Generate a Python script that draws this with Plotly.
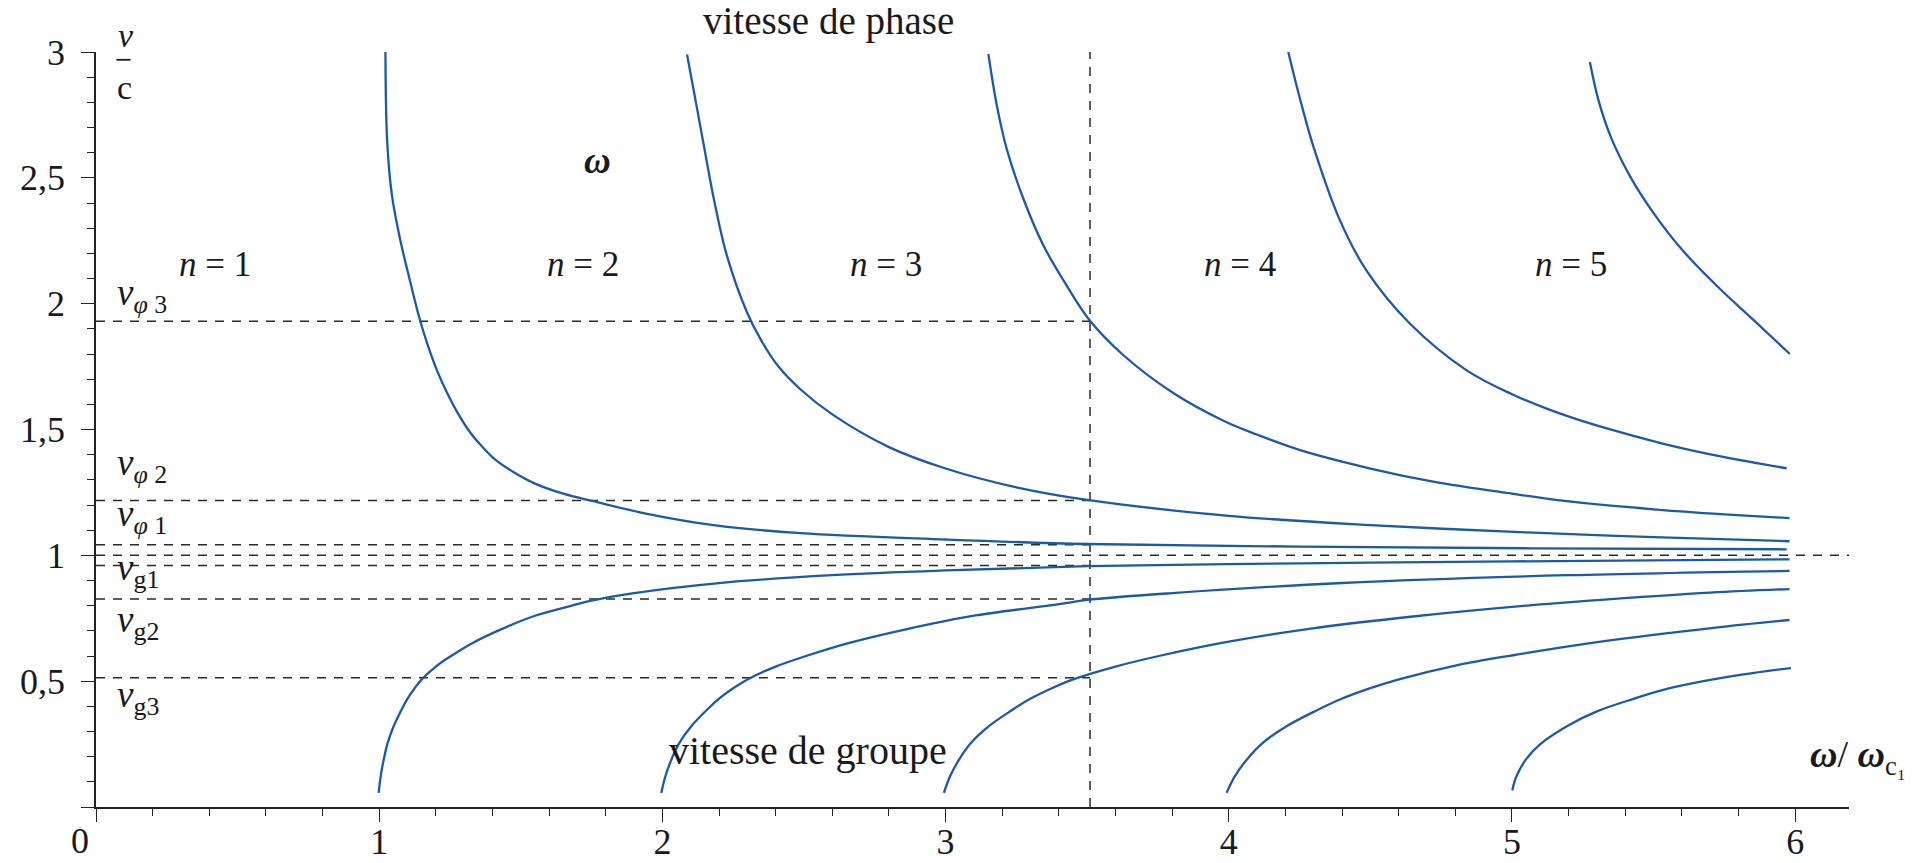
import plotly.graph_objects as go

# ---------------- data ----------------
# phase velocity curves v_phi / c  (mode n = 1..5)
phase_n1_x = [1.022, 1.028, 1.045, 1.075, 1.110, 1.139, 1.17, 1.204, 1.24, 1.275, 1.32, 1.357, 1.41, 1.475, 1.55, 1.65, 1.757, 1.946, 2.181, 2.487, 3.0, 3.5, 4.25, 5.07, 5.97]
phase_n1_y = [3.0, 2.65, 2.43, 2.25, 2.085, 1.955, 1.84, 1.735, 1.645, 1.57, 1.49, 1.44, 1.38, 1.33, 1.285, 1.245, 1.215, 1.165, 1.12, 1.088, 1.063, 1.045, 1.035, 1.028, 1.024]

phase_n2_x = [2.087, 2.12, 2.151, 2.181, 2.228, 2.299, 2.346, 2.41, 2.487, 2.6, 2.8, 3.0, 3.25, 3.5, 4.0, 4.5, 5.075, 5.5, 5.98]
phase_n2_y = [2.99, 2.79, 2.6, 2.42, 2.19, 1.965, 1.86, 1.75, 1.66, 1.56, 1.43, 1.345, 1.27, 1.22, 1.157, 1.12, 1.09, 1.072, 1.056]

phase_n3_x = [3.151, 3.181, 3.216, 3.275, 3.346, 3.428, 3.51, 3.628, 3.804, 3.981, 4.099, 4.252, 4.5, 4.722, 5.0, 5.193, 5.5, 5.75, 5.98]
phase_n3_y = [2.992, 2.787, 2.614, 2.416, 2.23, 2.071, 1.932, 1.795, 1.645, 1.535, 1.48, 1.418, 1.345, 1.293, 1.245, 1.215, 1.183, 1.163, 1.148]

phase_n4_x = [4.21, 4.25, 4.3, 4.393, 4.487, 4.64, 4.84, 5.0, 5.134, 5.287, 5.428, 5.546, 5.75, 5.97]
phase_n4_y = [3.0, 2.82, 2.62, 2.33, 2.13, 1.92, 1.735, 1.64, 1.578, 1.52, 1.475, 1.44, 1.39, 1.346]

phase_n5_x = [5.275, 5.305, 5.35, 5.42, 5.5, 5.6, 5.723, 5.875, 5.981]
phase_n5_y = [2.96, 2.81, 2.66, 2.5, 2.36, 2.215, 2.071, 1.912, 1.8]

# group velocity curves v_g / c
group_n1_x = [0.998, 1.005, 1.016, 1.03, 1.051, 1.075, 1.098, 1.125, 1.151, 1.2, 1.251, 1.33, 1.428, 1.55, 1.7, 1.75, 1.9, 2.2, 2.6, 3.0, 3.5, 4.25, 5.0, 5.98]
group_n1_y = [0.056, 0.12, 0.189, 0.255, 0.321, 0.378, 0.427, 0.472, 0.508, 0.558, 0.598, 0.652, 0.705, 0.76, 0.806, 0.82, 0.85, 0.89, 0.921, 0.94, 0.957, 0.968, 0.976, 0.984]

group_n2_x = [1.996, 2.01, 2.032, 2.06, 2.102, 2.15, 2.196, 2.25, 2.302, 2.4, 2.502, 2.66, 2.856, 3.1, 3.4, 3.5, 3.8, 4.4, 5.2, 5.98]
group_n2_y = [0.056, 0.12, 0.189, 0.255, 0.321, 0.378, 0.427, 0.472, 0.508, 0.558, 0.598, 0.652, 0.705, 0.76, 0.806, 0.823, 0.85, 0.89, 0.921, 0.938]

group_n3_x = [2.994, 3.015, 3.048, 3.09, 3.153, 3.225, 3.294, 3.375, 3.453, 3.6, 3.753, 3.99, 4.284, 4.65, 5.1, 5.25, 5.7, 5.98]
group_n3_y = [0.056, 0.12, 0.189, 0.255, 0.321, 0.378, 0.427, 0.472, 0.508, 0.558, 0.6, 0.655, 0.708, 0.757, 0.805, 0.818, 0.852, 0.866]

group_n4_x = [3.992, 4.02, 4.064, 4.12, 4.204, 4.3, 4.392, 4.5, 4.604, 4.8, 5.004, 5.32, 5.712, 5.98]
group_n4_y = [0.056, 0.12, 0.189, 0.255, 0.321, 0.378, 0.427, 0.472, 0.508, 0.562, 0.603, 0.658, 0.712, 0.743]

group_n5_x = [5.001, 5.015, 5.05, 5.1, 5.2, 5.3, 5.43, 5.55, 5.7, 5.85, 5.985]
group_n5_y = [0.066, 0.12, 0.19, 0.25, 0.325, 0.38, 0.43, 0.47, 0.505, 0.532, 0.552]

# reference levels (dashed lines)
x_cut = 3.51                      # omega / omega_c1 chosen
v_phi_levels = [1.93, 1.218, 1.042]
v_g_levels = [0.96, 0.826, 0.514]
c_level = 1.0
x_max = 6.19
y_max = 3.0

# axis ticks
x_tickvals = [0, 1, 2, 3, 4, 5, 6]
x_ticktext = ["", "1", "2", "3", "4", "5", "6"]
y_tickvals = [0, 0.5, 1, 1.5, 2, 2.5, 3]
y_ticktext = ["", "0,5", "1", "1,5", "2", "2,5", "3"]

# ---------------- figure ----------------
BLUE = "#1d5aa6"
DASH = "#2a2a2a"
FONT = "Liberation Serif, Times New Roman, serif"
TXT = "#1a1a1a"

fig = go.Figure()

curves = [
    (phase_n1_x, phase_n1_y), (phase_n2_x, phase_n2_y), (phase_n3_x, phase_n3_y),
    (phase_n4_x, phase_n4_y), (phase_n5_x, phase_n5_y),
    (group_n1_x, group_n1_y), (group_n2_x, group_n2_y), (group_n3_x, group_n3_y),
    (group_n4_x, group_n4_y), (group_n5_x, group_n5_y),
]

dash_style = dict(color=DASH, width=1.5, dash="9px,8px")

for lvl in v_phi_levels + v_g_levels:
    fig.add_trace(go.Scatter(x=[0, x_cut], y=[lvl, lvl], mode="lines",
                             line=dash_style, hoverinfo="skip"))
fig.add_trace(go.Scatter(x=[0, x_max], y=[c_level, c_level], mode="lines",
                         line=dash_style, hoverinfo="skip"))
fig.add_trace(go.Scatter(x=[x_cut, x_cut], y=[0, y_max], mode="lines",
                         line=dash_style, hoverinfo="skip"))

for cx, cy in curves:
    fig.add_trace(go.Scatter(x=cx, y=cy, mode="lines",
                             line=dict(color=BLUE, width=2.3, shape="spline", smoothing=1.0),
                             hoverinfo="skip"))

def ann(text, x, y, size=34, xanchor="center", yanchor="middle"):
    # positions given in data units, placed via paper coordinates so that
    # labels outside the axis ranges are still drawn
    fig.add_annotation(x=x / x_max, y=y / y_max, xref="paper", yref="paper",
                       text=text, showarrow=False,
                       font=dict(family=FONT, size=size, color=TXT),
                       xanchor=xanchor, yanchor=yanchor)

# mode labels
for label, xv in [("1", 0.42), ("2", 1.72), ("3", 2.79), ("4", 4.04), ("5", 5.21)]:
    ann("<i>n</i> = " + label, xv, 2.155, size=35)

ann("<b><i>ω</i></b>", 1.77, 2.57, size=37)
ann("vitesse de phase", 2.586, 3.123, size=39)
ann("vitesse de groupe", 2.515, 0.225, size=40)
ann("<b><i>ω</i></b>/ <b><i>ω</i></b><sub>c₁</sub>", 6.045, 0.2, size=38, xanchor="left")
ann("0", -0.058, -0.135, size=36)

# v / c at top of y-axis
ann("<i>v</i>", 0.105, 3.065, size=34)
ann("c", 0.1, 2.86, size=34)
fig.add_shape(type="line", x0=0.072, x1=0.122, y0=2.969, y1=2.969, xref="x", yref="y",
              line=dict(color=TXT, width=1.8))

# velocity labels
for txt, yv in [("<i>v</i><sub><i>φ</i> 3</sub>", 2.032), ("<i>v</i><sub><i>φ</i> 2</sub>", 1.357),
                ("<i>v</i><sub><i>φ</i> 1</sub>", 1.155), ("<i>v</i><sub>g1</sub>", 0.939),
                ("<i>v</i><sub>g2</sub>", 0.734), ("<i>v</i><sub>g3</sub>", 0.436)]:
    ann(txt, 0.066, yv, size=37, xanchor="left")

axis_common = dict(showgrid=False, zeroline=False, showline=True, linecolor="#222",
                   linewidth=1.5, ticks="outside", tickcolor="#222", tickwidth=1.4,
                   ticklen=13, automargin=False,
                   tickfont=dict(family=FONT, size=36, color=TXT))

# page body has an 8px default margin: figure sized to end at the window edges
fig.update_layout(
    width=1911, height=855,
    margin=dict(l=88, r=70, t=44, b=56),
    paper_bgcolor="white", plot_bgcolor="white",
    showlegend=False, hovermode=False,
    xaxis=dict(range=[0, x_max], tickvals=x_tickvals, ticktext=x_ticktext,
               ticklabelstandoff=-11,
               minor=dict(dtick=0.2, tick0=0, ticklen=7, ticks="outside",
                          tickcolor="#222", tickwidth=1.3),
               **axis_common),
    yaxis=dict(range=[0, y_max], tickvals=y_tickvals, ticktext=y_ticktext,
               ticklabelstandoff=9,
               minor=dict(dtick=0.1, tick0=0, ticklen=7, ticks="outside",
                          tickcolor="#222", tickwidth=1.3),
               **axis_common),
)

fig.write_html("out.html")
